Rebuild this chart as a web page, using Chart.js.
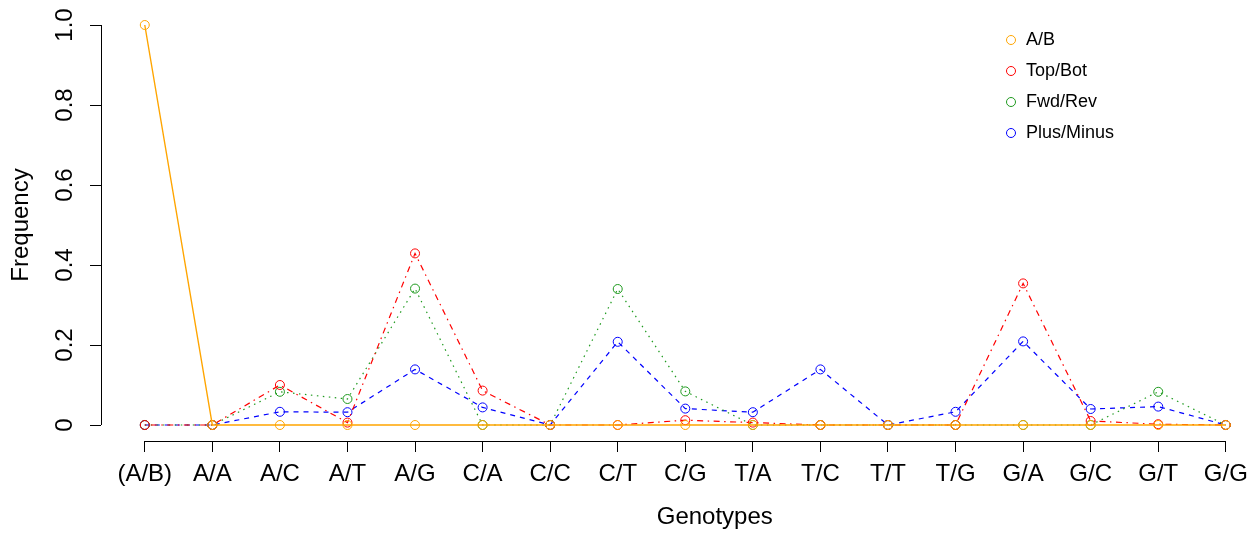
<!DOCTYPE html>
<html>
<head>
<meta charset="utf-8">
<script src="https://cdn.jsdelivr.net/npm/chart.js@4.4.1/dist/chart.umd.min.js"></script>
<style>
  html, body { margin: 0; padding: 0; background: #fff; overflow: hidden; }
  #wrap { width: 1334px; height: 533px; }
</style>
</head>
<body>
<div id="wrap"><canvas id="freqChart" width="1334" height="533"></canvas></div>
<script>
// genotype frequency plot, four strand conventions

const categories = ["(A/B)", "A/A", "A/C", "A/T", "A/G", "C/A", "C/C", "C/T", "C/G",
                    "T/A", "T/C", "T/T", "T/G", "G/A", "G/C", "G/T", "G/G"];

const seriesNames = ["A/B", "Top/Bot", "Fwd/Rev", "Plus/Minus"];

const abVals        = [1, 0, 0, 0, 0, 0, 0, 0, 0, 0, 0, 0, 0, 0, 0, 0, 0];
const topBotVals    = [0, 0, 0.100, 0.006, 0.429, 0.086, 0, 0, 0.012, 0.006, 0, 0, 0, 0.354, 0.010, 0.002, 0];
const fwdRevVals    = [0, 0, 0.083, 0.065, 0.341, 0, 0, 0.340, 0.084, 0, 0, 0, 0, 0, 0, 0.083, 0];
const plusMinusVals = [0, 0, 0.033, 0.032, 0.139, 0.044, 0, 0.208, 0.041, 0.032, 0.139, 0, 0.033, 0.209, 0.040, 0.046, 0];

const yTicks = [0, 0.2, 0.4, 0.6, 0.8, 1.0];

const FONT = "'Liberation Sans', Arial, Helvetica, sans-serif";

function toPoints(vals) {
  return vals.map((v, i) => ({ x: i + 1, y: v }));
}

function makeSet(label, vals, color, dash, width) {
  return {
    label: label,
    data: toPoints(vals),
    borderColor: color,
    backgroundColor: "rgba(0,0,0,0)",
    borderWidth: width,
    borderDash: dash,
    pointStyle: "circle",
    pointRadius: 4.5,
    pointBorderWidth: 1,
    pointBorderColor: color,
    pointBackgroundColor: "rgba(0,0,0,0)",
    tension: 0,
    fill: false
  };
}

// axis lines like base R: only from first to last tick
const rAxes = {
  id: "rAxes",
  beforeDatasetsDraw(chart) {
    const { ctx, chartArea, scales } = chart;
    ctx.save();
    ctx.strokeStyle = "#000";
    ctx.lineWidth = 1;
    ctx.beginPath();
    const yb = Math.round(chartArea.bottom) + 0.5;
    ctx.moveTo(scales.x.getPixelForValue(1), yb);
    ctx.lineTo(scales.x.getPixelForValue(categories.length), yb);
    const xl = Math.round(chartArea.left) + 0.5;
    ctx.moveTo(xl, scales.y.getPixelForValue(yTicks[0]));
    ctx.lineTo(xl, scales.y.getPixelForValue(yTicks[yTicks.length - 1]));
    ctx.stroke();
    ctx.restore();
  }
};

// boxless legend in the upper right, as in R legend(bty = "n")
const cornerLegend = {
  id: "cornerLegend",
  afterDatasetsDraw(chart) {
    const { ctx } = chart;
    ctx.save();
    ctx.font = "18px " + FONT;
    ctx.textBaseline = "middle";
    ctx.textAlign = "left";
    chart.data.datasets.forEach((ds, i) => {
      const cy = 40 + i * 31;
      ctx.beginPath();
      ctx.strokeStyle = ds.borderColor;
      ctx.lineWidth = 1;
      ctx.arc(1011, cy, 4.5, 0, Math.PI * 2);
      ctx.stroke();
      ctx.fillStyle = "#000";
      ctx.fillText(ds.label, 1026, cy);
    });
    ctx.restore();
  }
};

function noLabelPadding(scale) {
  scale.paddingTop = 0;
  scale.paddingBottom = 0;
  scale.paddingLeft = 0;
  scale.paddingRight = 0;
}

const ctx = document.getElementById("freqChart").getContext("2d");

new Chart(ctx, {
  type: "line",
  data: {
    datasets: [
      makeSet(seriesNames[0], abVals, "#FFA500", [], 1.4),
      makeSet(seriesNames[1], topBotVals, "#FF0000", [1.5, 4.5, 6, 4.5], 1.2),
      makeSet(seriesNames[2], fwdRevVals, "#1F9A1F", [1.5, 4.5], 1.2),
      makeSet(seriesNames[3], plusMinusVals, "#0000FF", [5, 5], 1.2)
    ]
  },
  options: {
    responsive: false,
    animation: false,
    layout: { padding: { top: 9, right: 0, bottom: 0, left: 0 } },
    plugins: {
      legend: { display: false },
      tooltip: { enabled: false },
      title: { display: false }
    },
    scales: {
      x: {
        type: "linear",
        position: "bottom",
        min: 0.352,
        max: 18.52,
        afterBuildTicks: (scale) => {
          scale.ticks = categories.map((c, i) => ({ value: i + 1 }));
        },
        afterFit: (scale) => { scale.height = 92; noLabelPadding(scale); },
        border: { display: false },
        grid: {
          display: true,
          drawOnChartArea: false,
          drawTicks: true,
          tickLength: 11,
          color: "#000",
          lineWidth: 1
        },
        ticks: {
          autoSkip: false,
          maxRotation: 0,
          minRotation: 0,
          padding: 8,
          color: "#000",
          font: { family: FONT, size: 24 },
          callback: (value) => categories[value - 1]
        },
        title: {
          display: true,
          text: "Genotypes",
          color: "#000",
          font: { family: FONT, size: 24 },
          padding: { top: 0, bottom: 1 }
        }
      },
      y: {
        type: "linear",
        position: "left",
        min: -0.04,
        max: 1.04,
        afterBuildTicks: (scale) => {
          scale.ticks = yTicks.map((v) => ({ value: v }));
        },
        afterFit: (scale) => { scale.width = 101; noLabelPadding(scale); },
        border: { display: false },
        grid: {
          display: true,
          drawOnChartArea: false,
          drawTicks: true,
          tickLength: 11,
          color: "#000",
          lineWidth: 1
        },
        ticks: {
          minRotation: 90,
          maxRotation: 90,
          crossAlign: "center",
          padding: 8,
          color: "#000",
          font: { family: FONT, size: 24 },
          callback: (value) => (value === 0 ? "0" : value.toFixed(1))
        },
        title: {
          display: true,
          text: "Frequency",
          color: "#000",
          font: { family: FONT, size: 24 },
          padding: { top: 7, bottom: 0 }
        }
      }
    }
  },
  plugins: [rAxes, cornerLegend]
});
</script>
</body>
</html>
